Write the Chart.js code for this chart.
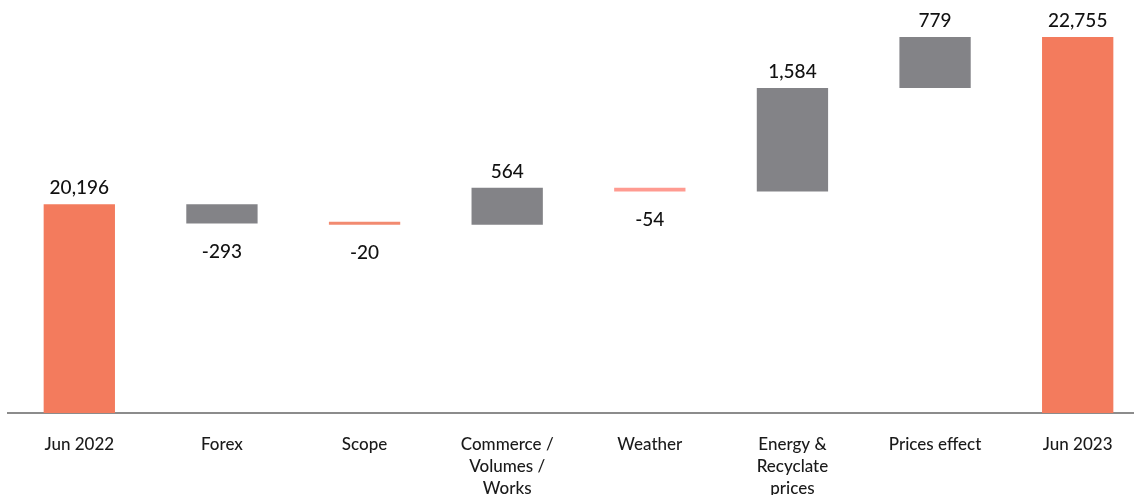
<!DOCTYPE html>
<html>
<head>
<meta charset="utf-8">
<script src="https://cdn.jsdelivr.net/npm/chart.js@4.4.1/dist/chart.umd.min.js"></script>
<style>
    html, body { margin: 0; padding: 0; background: #fff; overflow: hidden; }
    #wrap { width: 1134px; height: 495px; overflow: hidden; }
    #box { width: 1149px; height: 502px; }
</style>
</head>
<body>
<div id="wrap"><div id="box"><canvas id="bridge-chart"></canvas></div></div>
<script>
// Datos del puente Jun 2022 -> Jun 2023
const categories = ['Jun 2022', 'Forex', 'Scope', ['Commerce /', 'Volumes /', 'Works'], 'Weather', ['Energy &', 'Recyclate', 'prices'], 'Prices effect', 'Jun 2023'];
const openingValue = 20196;
const closingValue = 22755;
const changes = [-293, -20, 564, -54, 1584, 779];
const barColors = ['#F37B5D', '#838387', '#F28A70', '#838387', '#FF9B91', '#838387', '#838387', '#F37B5D'];

const AXIS_MIN = 17000;

// Construye los tramos flotantes [inicio, fin]
const bars = [[AXIS_MIN, openingValue]];
const labels = [openingValue];
let running = openingValue;
changes.forEach(c => {
    bars.push([running, running + c]);
    labels.push(c);
    running += c;
});
bars.push([AXIS_MIN, closingValue]);
labels.push(closingValue);

const fontFamily = 'Lato, "Open Sans", sans-serif';

/**
 * Dibuja los valores encima (positivos) o debajo (negativos) de cada barra
 */
const valueLabels = {
    id: 'valueLabels',
    afterDatasetsDraw(chart) {
        const ctx = chart.ctx;
        const meta = chart.getDatasetMeta(0);
        ctx.save();
        ctx.font = '500 19px ' + fontFamily;
        ctx.fillStyle = '#111';
        ctx.textAlign = 'center';
        ctx.textBaseline = 'middle';
        meta.data.forEach((bar, i) => {
            const v = labels[i];
            const top = Math.min(bar.y, bar.base);
            const bottom = Math.max(bar.y, bar.base);
            const text = v.toLocaleString('en-US');
            if (v >= 0) {
                ctx.fillText(text, bar.x, top - 16);
            } else {
                ctx.fillText(text, bar.x, bottom + 28);
            }
        });
        ctx.restore();
    }
};

const ctx = document.getElementById('bridge-chart').getContext('2d');
new Chart(ctx, {
    type: 'bar',
    data: {
        labels: categories,
        datasets: [{
            data: bars,
            backgroundColor: barColors,
            borderWidth: 0,
            barPercentage: 0.5,
            categoryPercentage: 1,
            minBarLength: 3
        }]
    },
    options: {
        responsive: true,
        maintainAspectRatio: false,
        animation: false,
        layout: { padding: { left: 8, right: 0, top: 0, bottom: 0 } },
        plugins: {
            legend: { display: false },
            tooltip: { enabled: false }
        },
        scales: {
            x: {
                grid: { display: false, drawTicks: false },
                border: { display: true, color: '#8c8c8c', width: 2 },
                ticks: {
                    color: '#1a1a1a',
                    padding: 20,
                    maxRotation: 0,
                    autoSkip: false,
                    font: { family: fontFamily, size: 17, weight: '500', lineHeight: 1.3 }
                },
                afterFit(scale) { scale.height = 89; }
            },
            y: {
                display: false,
                min: AXIS_MIN,
                max: 23323
            }
        }
    },
    plugins: [valueLabels]
});
</script>
</body>
</html>
